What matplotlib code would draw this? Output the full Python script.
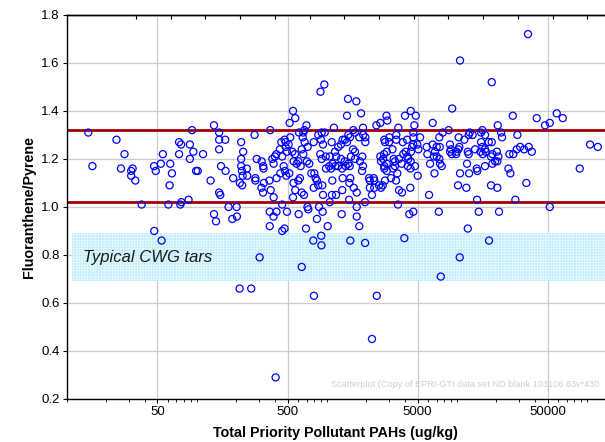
import numpy as np
import matplotlib
matplotlib.use("Agg")
import matplotlib.pyplot as plt
from matplotlib.ticker import FixedLocator, LogLocator, NullFormatter, FormatStrFormatter

plt.rcParams['font.family'] = ['Liberation Sans', 'DejaVu Sans']
plt.rcParams['hatch.linewidth'] = 0.6

# total priority pollutant PAHs (ug/kg) and fluoranthene/pyrene ratio, same order
pah_total = [
    14.7, 15.8, 24.2, 26.2, 27.9, 32.2, 31.4, 31.4, 33.8, 37.8,
    47.1, 48.5, 53.1, 55.0, 62.7, 64.6, 62.0, 60.7, 73.3, 76.0,
    73.3, 88.8, 92.2, 94.4, 88.8, 99.0, 102, 75.0, 76.4, 86.7,
    47.2, 53.8,
    112, 128, 136, 149, 149, 166, 149, 154, 167, 191,
    149, 152, 136, 141, 176, 203, 188, 204, 214, 263,
    220, 228, 220, 220, 243, 223, 226, 245, 215, 224,
    279, 290, 283, 283, 315, 316, 325, 327, 329, 324,
    363, 371, 391, 365, 390, 411, 365, 455, 495, 474,
    455, 405, 305, 551, 556, 643, 609, 693, 643, 712,
    722, 412, 440, 478, 489, 516, 605, 368, 382, 400,
    391, 410, 437, 448, 467, 475, 525, 484, 495, 484,
    455, 519, 551, 573, 510, 544, 570, 557, 588, 613,
    896, 959, 1459, 1690, 1433, 1838, 699, 673, 661, 654,
    677, 643, 661, 714, 795, 862, 915, 966, 904, 937,
    1092, 1137, 1228, 1288, 1327, 1383, 1433, 1466, 1511, 1602,
    1651, 1782, 1910, 1902, 1983, 1983, 1159, 1186, 1593, 1651,
    1538, 1879, 1803, 893, 915, 983, 1055, 1288, 1375, 1466,
    1503, 1651, 1902, 1112, 1165, 1222, 1047, 735, 705, 605,
    2410, 2585, 2884, 2924, 3032, 2775, 2808, 3014, 3430, 3430,
    3200, 3555, 2760, 2896, 2720, 2585, 2617, 3273, 3350, 2775,
    2896, 2775, 3350, 3250, 631, 762, 804, 823, 842, 623,
    862, 795, 925, 573, 669, 988, 1080, 1105, 1312, 1400,
    1327, 1520, 1493, 1614, 1702, 1318, 937, 1098, 1180, 1870,
    2116, 2300, 2145, 2323, 2145, 2323, 2523, 2617, 2697, 2808,
    2896, 3126, 3410, 2230, 873, 1055, 1486, 1972, 1702, 931,
    1304, 1702, 842, 1018, 1782, 908, 789, 912, 1520, 1974,
    798, 2427, 2230, 3954, 4318, 4634, 3535, 6124, 4395, 7277,
    7540, 10540, 12160, 10230, 11860, 14330, 14760, 17710, 18350, 20520,
    21140, 28230, 34300, 51880, 3493, 3597, 3795, 5012, 6745, 4426,
    4000, 4842, 4721, 4634, 4634, 9226, 6533, 8670, 7345, 7798,
    10350, 11430, 12360, 13240, 12590, 15740, 16500, 15380, 20650, 3843,
    4150, 4634, 4977, 4530, 5070, 4450, 4052, 3883, 4171, 5875,
    6533, 7015, 7398, 5943, 7015, 7345, 6808, 8870, 9030, 8870,
    9160, 9940, 10290, 9900, 10470, 12160, 12360, 13840, 15380, 15740,
    16500, 17620, 18580, 15210, 15850, 18800, 18350, 20320, 20890, 3597,
    3776, 4246, 4426, 4198, 4405, 4777, 6237, 6685, 7670, 7440,
    12000, 14260, 16500, 19720, 10600, 18580, 35300, 26980, 41210, 47740,
    51880, 58720, 65330, 105900, 121500, 88250, 21920, 22300, 29260, 25420,
    27230, 28940, 30710, 32960, 35790, 37760, 24970, 25850, 20520, 18800,
    14400, 12440, 10600, 16720, 5224,
]
fl_py = [
    1.31, 1.17, 1.28, 1.16, 1.22, 1.16, 1.15, 1.13, 1.11, 1.01,
    1.17, 1.15, 1.18, 1.22, 1.18, 1.14, 1.09, 1.01, 1.27, 1.26,
    1.22, 1.26, 1.32, 1.23, 1.20, 1.15, 1.15, 1.01, 1.02, 1.03,
    0.90, 0.86,
    1.22, 1.11, 1.34, 1.31, 1.28, 1.28, 1.24, 1.17, 1.15, 1.12,
    1.06, 1.05, 0.97, 0.94, 1.00, 1.00, 0.95, 0.96, 0.66, 0.66,
    1.27, 1.23, 1.20, 1.17, 1.16, 1.15, 1.13, 1.13, 1.10, 1.09,
    1.30, 1.20, 1.12, 1.11, 1.08, 1.19, 1.17, 1.16, 1.10, 1.06,
    1.11, 1.07, 1.04, 0.98, 0.96, 0.98, 0.92, 1.01, 0.98, 0.91,
    0.90, 0.29, 0.79, 1.04, 1.10, 1.06, 0.97, 0.91, 0.75, 1.00,
    0.99, 1.12, 1.14, 1.15, 1.13, 1.14, 1.11, 1.32, 1.20, 1.21,
    1.18, 1.22, 1.24, 1.27, 1.17, 1.28, 1.29, 1.27, 1.23, 1.25,
    1.21, 1.35, 1.40, 1.37, 1.26, 1.23, 1.22, 1.19, 1.18, 1.31,
    1.48, 1.51, 1.45, 1.44, 1.38, 1.39, 1.34, 1.32, 1.31, 1.29,
    1.27, 1.24, 1.22, 1.25, 1.27, 1.30, 1.31, 1.31, 1.28, 1.26,
    1.27, 1.33, 1.25, 1.26, 1.28, 1.28, 1.27, 1.30, 1.29, 1.32,
    1.31, 1.29, 1.30, 1.33, 1.27, 1.29, 1.23, 1.21, 1.24, 1.23,
    1.21, 1.21, 1.19, 1.22, 1.20, 1.21, 1.21, 1.20, 1.19, 1.18,
    1.17, 1.20, 1.17, 1.18, 1.17, 1.17, 1.17, 1.18, 1.19, 1.19,
    1.34, 1.35, 1.38, 1.36, 1.29, 1.28, 1.27, 1.27, 1.30, 1.28,
    1.24, 1.33, 1.22, 1.23, 1.20, 1.21, 1.19, 1.20, 1.19, 1.17,
    1.18, 1.16, 1.17, 1.16, 1.17, 1.14, 1.14, 1.12, 1.11, 1.12,
    1.09, 1.08, 1.09, 1.07, 1.05, 1.16, 1.16, 1.11, 1.16, 1.17,
    1.12, 1.12, 1.10, 1.08, 1.06, 1.07, 1.05, 1.05, 1.05, 1.15,
    1.12, 1.12, 1.11, 1.11, 1.08, 1.08, 1.09, 1.08, 1.09, 1.11,
    1.15, 1.12, 1.11, 1.05, 1.00, 1.02, 1.03, 1.02, 1.00, 0.98,
    0.97, 0.96, 0.95, 0.92, 0.92, 0.88, 0.86, 0.84, 0.86, 0.85,
    0.63, 0.63, 0.45, 0.87, 0.97, 0.98, 1.01, 1.05, 1.08, 0.98,
    0.71, 0.79, 0.91, 1.09, 1.08, 1.03, 0.98, 0.86, 1.09, 1.08,
    0.98, 1.03, 1.10, 1.00, 1.14, 1.07, 1.06, 1.13, 1.14, 1.40,
    1.38, 1.38, 1.34, 1.31, 1.29, 1.41, 1.35, 1.32, 1.29, 1.31,
    1.29, 1.28, 1.30, 1.30, 1.31, 1.32, 1.30, 1.31, 1.34, 1.27,
    1.28, 1.26, 1.26, 1.25, 1.24, 1.23, 1.23, 1.22, 1.21, 1.25,
    1.26, 1.25, 1.25, 1.22, 1.21, 1.20, 1.23, 1.26, 1.24, 1.23,
    1.22, 1.23, 1.24, 1.22, 1.25, 1.23, 1.22, 1.24, 1.27, 1.25,
    1.24, 1.27, 1.27, 1.23, 1.22, 1.22, 1.21, 1.23, 1.21, 1.20,
    1.18, 1.20, 1.19, 1.17, 1.16, 1.17, 1.18, 1.21, 1.17, 1.18,
    1.18, 1.16, 1.17, 1.19, 1.61, 1.52, 1.72, 1.38, 1.37, 1.34,
    1.35, 1.39, 1.37, 1.26, 1.25, 1.16, 1.31, 1.29, 1.30, 1.22,
    1.22, 1.24, 1.25, 1.24, 1.25, 1.23, 1.16, 1.14, 1.19, 1.18,
    1.15, 1.14, 1.14, 1.23, 1.29,
]

upper_limit = 1.32
lower_limit = 1.02
cwg_low, cwg_high = 0.69, 0.89
x_ticks = [50, 500, 5000, 50000]
y_ticks = [0.2, 0.4, 0.6, 0.8, 1.0, 1.2, 1.4, 1.6, 1.8]
x_min, x_max = 10, 1.38e5


fig = plt.figure(figsize=(6.05, 4.42), dpi=100)
ax = fig.add_axes([0.110, 0.0973, 0.890, 0.869])
ax.set_xscale('log')
ax.set_xlim(x_min, x_max)
ax.set_ylim(0.2, 1.8)

ax.grid(True, which='major', color='#cccccc', lw=0.9, zorder=0)
ax.set_axisbelow(True)

# typical CWG tars band
ax.fill_between([11, x_max], cwg_low, cwg_high, facecolor='#b9ebfa',
                edgecolor='#eafaff', hatch='++++++', lw=0, alpha=0.9, zorder=1)
ax.text(13.3, 0.79, 'Typical CWG tars', style='italic', fontsize=12,
        va='center', ha='left', color='#1a1a1a', zorder=2)

ax.axhline(upper_limit, color='#a00000', lw=2, zorder=2)
ax.axhline(lower_limit, color='#a00000', lw=2, zorder=2)

ax.scatter(pah_total, fl_py, s=26, facecolors='none', edgecolors='#0000ff',
           linewidths=0.9, zorder=3)

ax.xaxis.set_major_locator(FixedLocator(x_ticks))
ax.xaxis.set_major_formatter(FormatStrFormatter('%d'))
ax.xaxis.set_minor_locator(LogLocator(base=10, subs=np.arange(1, 10), numticks=20))
ax.xaxis.set_minor_formatter(NullFormatter())
ax.set_yticks(y_ticks)
ax.yaxis.set_major_formatter(FormatStrFormatter('%.1f'))
ax.tick_params(which='major', direction='out', length=3, width=0.8, labelsize=9.5, pad=2)
ax.tick_params(which='minor', direction='out', length=2, width=0.6)

# odd top ticks of the original plot
top = ax.secondary_xaxis('top')
top.set_xticks(10 ** (1.533 + 0.267 * np.arange(14)))
top.xaxis.set_minor_locator(FixedLocator([]))
top.tick_params(direction='in', length=3, width=0.8, labeltop=False)
top.spines['top'].set_linewidth(1.0)

for s in ['left', 'bottom', 'top']:
    ax.spines[s].set_linewidth(1.0)
    ax.spines[s].set_color('black')
ax.spines['right'].set_visible(False)

ax.set_xlabel('Total Priority Pollutant PAHs (ug/kg)', fontsize=10.3,
              fontweight='bold', labelpad=6)
ax.set_ylabel('Fluoranthene/Pyrene', fontsize=10.3, fontweight='bold', labelpad=4)

ax.text(0.491, 0.039, 'Scatterplot (Copy of EPRI-GTI data set ND blank 103106 63v*430',
        transform=ax.transAxes, fontsize=6.55, color='#cfcfcf', va='center',
        ha='left', clip_on=False)

fig.savefig('out.png', dpi=100)
